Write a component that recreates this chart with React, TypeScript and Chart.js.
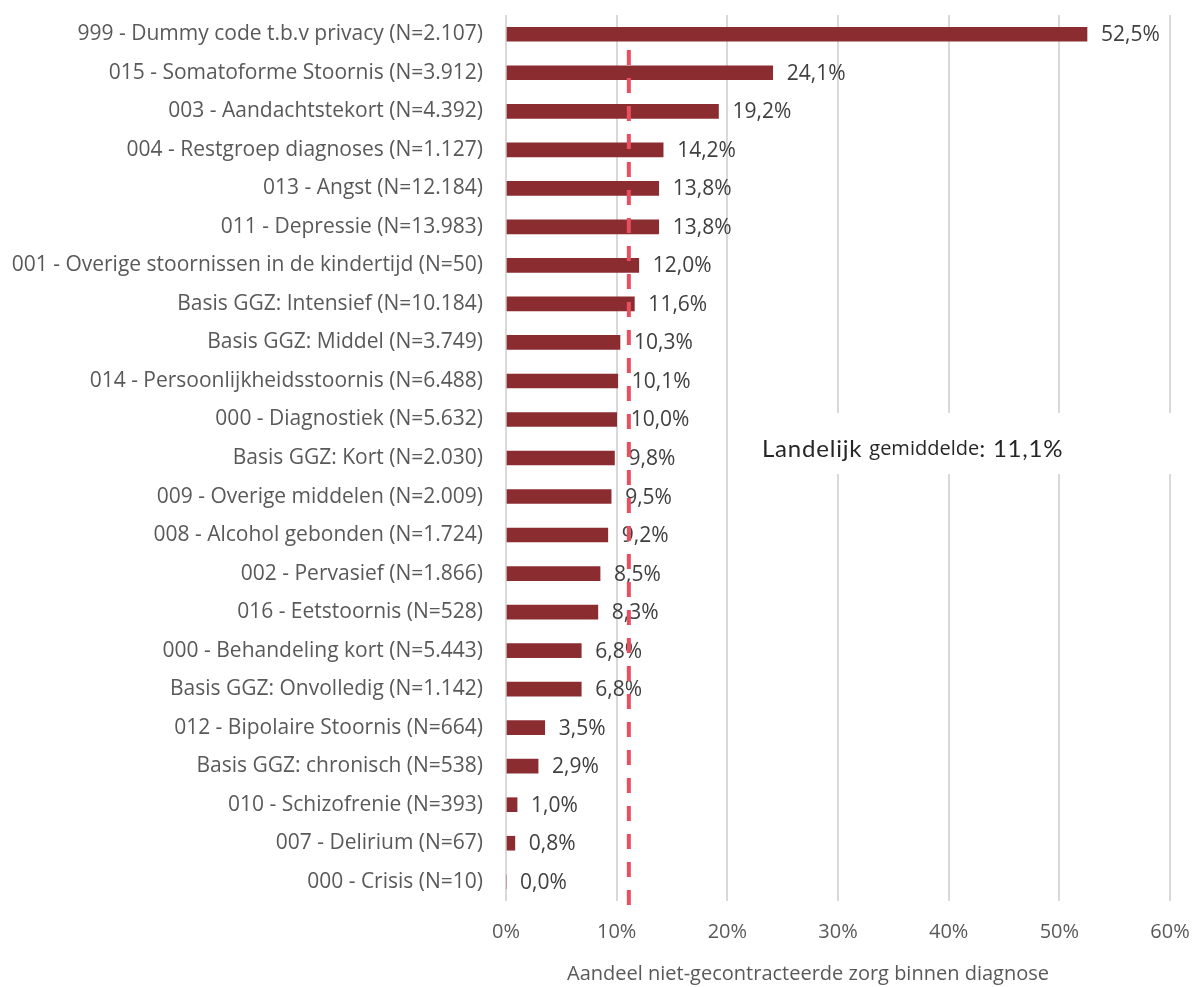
import React, { useEffect, useRef } from "react";
import { Chart, registerables } from "chart.js";

Chart.register(...registerables);

const categories = [
  "999 - Dummy code t.b.v privacy (N=2.107)",
  "015 - Somatoforme Stoornis (N=3.912)",
  "003 - Aandachtstekort (N=4.392)",
  "004 - Restgroep diagnoses (N=1.127)",
  "013 - Angst (N=12.184)",
  "011 - Depressie (N=13.983)",
  "001 - Overige stoornissen in de kindertijd (N=50)",
  "Basis GGZ: Intensief (N=10.184)",
  "Basis GGZ: Middel (N=3.749)",
  "014 - Persoonlijkheidsstoornis (N=6.488)",
  "000 - Diagnostiek (N=5.632)",
  "Basis GGZ: Kort (N=2.030)",
  "009 - Overige middelen (N=2.009)",
  "008 - Alcohol gebonden (N=1.724)",
  "002 - Pervasief (N=1.866)",
  "016 - Eetstoornis (N=528)",
  "000 - Behandeling kort (N=5.443)",
  "Basis GGZ: Onvolledig (N=1.142)",
  "012 - Bipolaire Stoornis (N=664)",
  "Basis GGZ: chronisch (N=538)",
  "010 - Schizofrenie (N=393)",
  "007 - Delirium (N=67)",
  "000 - Crisis (N=10)",
];

const shares = [
  52.5, 24.1, 19.2, 14.2, 13.8, 13.8, 12.0, 11.6, 10.3, 10.1, 10.0, 9.8, 9.5,
  9.2, 8.5, 8.3, 6.8, 6.8, 3.5, 2.9, 1.0, 0.8, 0.0,
];

const nationalAverage = 11.1;
const xTicks = [0, 10, 20, 30, 40, 50, 60];
const xTitle = "Aandeel niet-gecontracteerde zorg binnen diagnose";

const fmt = (v: number) => v.toFixed(1).replace(".", ",") + "%";

const overlayPlugin = {
  id: "overlay",
  afterDatasetsDraw(chart: any) {
    const { ctx, scales } = chart;
    const x = scales.x;
    const meta = chart.getDatasetMeta(0);
    ctx.save();
    // data labels
    ctx.font = "21px 'Open Sans'";
    ctx.fillStyle = "#404040";
    ctx.textBaseline = "middle";
    ctx.textAlign = "left";
    meta.data.forEach((bar: any, i: number) => {
      ctx.fillText(fmt(shares[i]), bar.x + 14, bar.y + 1);
    });
    // axis title
    ctx.font = "20px 'Open Sans'";
    ctx.fillStyle = "#595959";
    ctx.textAlign = "center";
    ctx.fillText(xTitle, 808, 974);
    // annotation box
    ctx.fillStyle = "#ffffff";
    ctx.fillRect(742, 413, 440, 61);
    // annotation text
    const cy = 449;
    let tx = 762;
    ctx.textAlign = "left";
    ctx.fillStyle = "#262626";
    const parts: [string, string, string][] = [
      ["Landelijk ", "24px Lato", "0.8px"],
      ["gemiddelde", "20px 'Open Sans'", "0px"],
      [": " + fmt(nationalAverage), "24px Lato", "0.8px"],
    ];
    for (const [t, f, ls] of parts) {
      ctx.font = f;
      (ctx as any).letterSpacing = ls;
      ctx.fillText(t, tx, cy);
      tx += ctx.measureText(t).width;
    }
    (ctx as any).letterSpacing = "0px";
    // dashed average line
    const ax = x.getPixelForValue(nationalAverage);
    ctx.strokeStyle = "#e8505f";
    ctx.lineWidth = 4;
    ctx.setLineDash([15, 13]);
    ctx.beginPath();
    ctx.moveTo(ax, 50);
    ctx.lineTo(ax, 906);
    ctx.stroke();
    ctx.restore();
  },
};

export default function App() {
  const ref = useRef<HTMLCanvasElement | null>(null);
  useEffect(() => {
    document.body.style.margin = "0";
    const chart = new Chart(ref.current!, {
      type: "bar",
      data: {
        labels: categories,
        datasets: [
          {
            data: shares,
            backgroundColor: "#8b2d30",
            barThickness: 14,
          },
        ],
      },
      plugins: [overlayPlugin],
      options: {
        indexAxis: "y",
        animation: false,
        responsive: false,
        maintainAspectRatio: false,
        layout: { padding: { top: 15, right: 23, bottom: 0, left: 0 } },
        plugins: {
          legend: { display: false },
          tooltip: { enabled: false },
        },
        scales: {
          x: {
            min: 0,
            max: 60,
            afterBuildTicks: (s: any) => {
              s.ticks = xTicks.map((v) => ({ value: v }));
            },
            afterFit: (s: any) => {
              s.height = 86;
              s.paddingLeft = 0;
              s.paddingRight = 0;
            },
            grid: { color: "#d9d9d9", lineWidth: 2, drawTicks: false },
            border: { display: false },
            ticks: {
              padding: 19,
              color: "#595959",
              font: { family: "'Open Sans'", size: 20 },
              callback: (v: any) => v + "%",
            },
          },
          y: {
            afterFit: (s: any) => {
              s.width = 506;
              s.paddingTop = 0;
              s.paddingBottom = 0;
            },
            grid: { display: false, drawTicks: false },
            border: { display: false },
            ticks: {
              padding: 23,
              color: "#595959",
              font: { family: "'Open Sans'", size: 21 },
            },
          },
        },
      },
    });
    return () => chart.destroy();
  }, []);
  return (
    <div style={{ width: 1193, height: 987 }}>
      <canvas ref={ref} width={1193} height={987} style={{ display: "block" }} />
    </div>
  );
}
